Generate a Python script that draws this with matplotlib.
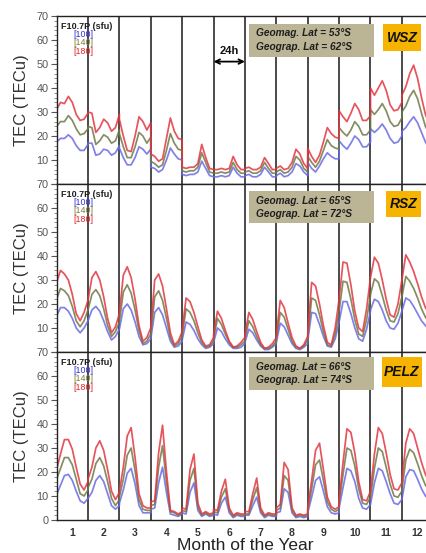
import numpy as np
import matplotlib
matplotlib.use("Agg")
from matplotlib import pyplot as plt
from matplotlib.patches import Rectangle
from matplotlib.ticker import MultipleLocator

plt.rcParams["font.family"] = ["Liberation Sans", "DejaVu Sans"]

# hours sampled inside each month (one mean diurnal curve per month)
hours = [0, 3, 6, 9, 12, 15, 18, 21, 24]
months = list(range(1, 13))

# ---- WSZ : TEC for F10.7P = 180 / 140 / 100 sfu
wsz_180 = [
    [31, 34, 33.5, 36.5, 34, 29, 26.5, 27, 29.5],
    [30, 29.5, 21.5, 23.5, 27, 25.5, 22, 23.5, 29],
    [27, 20, 14, 13.5, 20, 28, 26, 22.5, 25.5],
    [12.5, 11.5, 9.5, 10.5, 19, 27.5, 22, 19, 18.5],
    [7, 6.5, 7, 7, 8.5, 16.5, 11, 6.5, 6],
    [6, 6, 6.5, 6, 6.5, 11.5, 8, 6, 6],
    [6.5, 7, 6, 6, 7, 11, 8.5, 6, 6],
    [6.5, 7.5, 6, 6.5, 9, 14.5, 12.5, 8.5, 6.5],
    [15, 11.5, 9, 12, 17.5, 23.5, 21, 19.5, 19],
    [30.5, 28, 26, 29.5, 33.5, 31, 26.5, 26.5, 28.5],
    [40, 37, 40, 43, 39, 33, 30.5, 31, 34],
    [37, 40.5, 46, 49.5, 44, 36, 29, 25, 25],
]
wsz_140 = [
    [24, 26, 26, 28.5, 26.5, 23, 20.5, 21, 23],
    [24, 23.5, 16.5, 18, 20.5, 19.5, 17, 18, 22.5],
    [21, 15.5, 11, 11, 15.5, 21.5, 20, 17, 19.5],
    [9.5, 8.5, 7, 8, 14, 21, 17, 14.5, 14],
    [5.5, 5, 5.5, 5.5, 7, 13, 9, 5, 4.5],
    [4.5, 4.5, 5, 4.5, 5, 9, 6, 4.5, 4.5],
    [5, 5.5, 4.5, 4.5, 5.5, 9, 6.5, 4.5, 4.5],
    [5, 6, 4.5, 5, 7, 11.5, 10, 6.5, 5],
    [11.5, 9, 7, 9.5, 14, 18.5, 16, 15, 14.5],
    [23.5, 21.5, 20, 22.5, 26, 24, 20.5, 20.5, 22.5],
    [31, 29, 31, 33.5, 30.5, 26, 24, 24.5, 27.5],
    [30, 32.5, 36.5, 39, 35.5, 29.5, 24, 21, 21],
]
wsz_100 = [
    [17.5, 19, 19, 20.5, 19, 16, 14, 14, 16.5],
    [17, 17, 12, 12.5, 14.5, 14, 12, 13, 16],
    [15, 11, 8, 8, 11, 15.5, 14.5, 12.5, 14.5],
    [7, 6.5, 5, 6, 10, 15, 12.5, 10.5, 10],
    [4, 3.5, 4, 4, 5, 9.5, 6.5, 3.5, 3],
    [3, 3, 3.5, 3, 3.5, 7, 4.5, 3, 3],
    [3.5, 4, 3, 3, 4, 7, 5, 3, 3],
    [3.5, 4.5, 3, 3.5, 5, 8.5, 7.5, 5, 3.5],
    [9, 6.5, 5, 7.5, 10.5, 13, 11.5, 10.5, 10.5],
    [18, 16, 14.5, 17, 20, 18.5, 15.5, 15.5, 17.5],
    [23, 21.5, 23, 25, 22.5, 19, 17, 17.5, 20],
    [22, 23.5, 26, 28, 25.5, 21.5, 17.5, 15, 15],
]

# ---- RSZ
rsz_180 = [
    [29, 34, 32.5, 30, 24, 16, 13, 16.5, 21.5],
    [21.5, 31, 33.5, 30, 23, 14, 8, 10.5, 16],
    [16, 32, 35.5, 31, 22, 11, 4.5, 6, 10],
    [10, 30, 32.5, 27.5, 18, 8, 3, 4.5, 8.5],
    [9, 22.5, 21, 16.5, 10.5, 5, 2.5, 3, 6],
    [7, 17, 14, 9, 4.5, 2, 2.5, 4, 6],
    [7, 16.5, 13.5, 8.5, 4, 1.5, 2, 3.5, 6],
    [7, 21.5, 18.5, 12, 6, 2.5, 1.5, 3, 6.5],
    [7.5, 29, 27.5, 20, 11, 4, 3, 10, 22],
    [22, 37.5, 37, 28, 17, 10, 8.5, 18, 31],
    [31, 39.5, 37, 30, 22, 15.5, 14.5, 20, 30],
    [30, 40.5, 37.5, 33.5, 28.5, 23, 18.5, 16, 16],
]
rsz_140 = [
    [22, 26.5, 25.5, 23.5, 19, 13, 10.5, 13, 17.5],
    [17.5, 24, 26, 23.5, 18, 11, 6.5, 8.5, 12.5],
    [12.5, 25, 28, 24.5, 17.5, 9, 3.5, 4.5, 7.5],
    [7.5, 23, 25.5, 21.5, 14, 6, 2.5, 3.5, 6.5],
    [7, 18, 16.5, 13, 8, 4, 2, 2.5, 4.5],
    [5.5, 14, 11.5, 7.5, 4, 2, 2, 3, 4.5],
    [5.5, 13, 10.5, 6.5, 3, 1.5, 1.5, 2.5, 4.5],
    [5.5, 16.5, 14.5, 9.5, 4.5, 2, 1.5, 2.5, 5],
    [6, 22.5, 21.5, 15.5, 8.5, 3, 2.5, 7.5, 17],
    [17, 29.5, 29, 22, 13.5, 7.5, 6.5, 13.5, 23.5],
    [24, 30.5, 29, 23.5, 17.5, 13, 12.5, 16, 23],
    [23, 31.5, 29.5, 26.5, 22.5, 18, 14.5, 12.5, 12.5],
]
rsz_100 = [
    [15, 18.5, 18.5, 17, 14, 10, 8, 10, 13],
    [13, 17.5, 19, 17, 13, 8.5, 5, 6.5, 9.5],
    [9.5, 18, 20, 17.5, 12.5, 6.5, 3, 3.5, 5.5],
    [5.5, 16.5, 18.5, 15.5, 10, 4.5, 2, 2.5, 4.5],
    [5, 12.5, 11.5, 9, 5.5, 3, 1.5, 2, 3.5],
    [4, 10, 8.5, 5.5, 3, 1.5, 1.5, 2, 3.5],
    [4, 9.5, 8, 5, 2.5, 1, 1, 2, 3.5],
    [4, 12, 10.5, 7, 3.5, 1.5, 1, 2, 3.5],
    [4.5, 16.5, 16, 11.5, 6.5, 2.5, 2, 5.5, 12.5],
    [12.5, 21, 21, 16, 10, 5.5, 4.5, 9.5, 17],
    [17.5, 22, 21, 17.5, 13, 10, 9.5, 12, 17],
    [17, 22.5, 21.5, 19, 16, 13, 11, 9.5, 9.5],
]

# ---- PELZ
pelz_180 = [
    [21, 27.5, 33.5, 33.5, 29.5, 22, 15, 12.5, 16],
    [17, 22, 30, 33, 29, 21, 12, 8.5, 11.5],
    [12, 22, 35, 38.5, 26, 11, 6, 5, 5],
    [7.5, 8, 28, 39.5, 20, 4, 3.5, 2.5, 3.5],
    [5, 4.5, 21, 27.5, 7, 2.5, 3.5, 2.5, 3],
    [4.5, 4, 12, 17, 5, 2, 3, 2.5, 2.5],
    [3.5, 3.5, 11, 17.5, 5, 2, 3, 2.5, 2.5],
    [5, 6.5, 24, 21, 5, 2, 2.5, 2, 2.5],
    [5, 16.5, 29, 32, 21, 9.5, 5.5, 4.5, 5.5],
    [8.5, 24, 38, 36.5, 28, 16, 8.5, 8, 12],
    [12, 27.5, 38.5, 36, 28, 19, 13, 12.5, 15.5],
    [16, 32, 38, 36, 30, 24, 19, 16, 16],
]
pelz_140 = [
    [17, 21.5, 26, 26, 23, 17, 11, 10, 12.5],
    [13.5, 17, 23.5, 26, 22.5, 16, 9, 6, 8.5],
    [9.5, 17, 27, 30, 20.5, 8.5, 4.5, 4, 4],
    [6, 6.5, 22, 31, 16, 3.5, 3, 2, 3],
    [4, 3.5, 16.5, 21.5, 5.5, 2, 3, 2, 2.5],
    [3.5, 3, 9.5, 13, 4, 1.5, 2.5, 2, 2],
    [2.5, 2.5, 8.5, 13.5, 4, 1.5, 2.5, 2, 2],
    [4, 5, 18.5, 16.5, 4, 1.5, 2, 1.5, 2],
    [4, 13, 23, 25, 16.5, 7.5, 4.5, 3.5, 4.5],
    [7, 19, 30, 29, 22.5, 13, 7, 6.5, 9.5],
    [9.5, 21.5, 30, 28.5, 22, 15, 10, 9.5, 12],
    [12.5, 25, 29.5, 28, 23.5, 18.5, 14.5, 12.5, 12.5],
]
pelz_100 = [
    [10.5, 14.5, 18.5, 19, 16.5, 12, 8, 7, 9],
    [9, 11.5, 16.5, 18.5, 16, 11, 6, 4.5, 6],
    [7, 12.5, 19.5, 21.5, 15, 6, 3, 3, 3],
    [4.5, 5, 15.5, 22, 11.5, 2.5, 2, 1.5, 2.5],
    [3, 2.5, 11.5, 15.5, 4, 1.5, 2.5, 1.5, 2],
    [2.5, 2, 7, 9.5, 3, 1, 2, 1.5, 1.5],
    [2, 2, 6, 9.5, 3, 1, 2, 1.5, 1.5],
    [3, 3.5, 13, 11.5, 3, 1, 1.5, 1, 1.5],
    [3, 9.5, 16.5, 18, 12, 5.5, 3, 2.5, 3],
    [5, 13.5, 21.5, 20.5, 16, 9, 5, 4.5, 6.5],
    [6.5, 15.5, 21.5, 20.5, 16, 11, 7, 6.5, 8.5],
    [8.5, 18, 21, 20.5, 17, 13, 10, 8.5, 8.5],
]

stations = ["WSZ", "RSZ", "PELZ"]
geomag_lat = ["53°S", "65°S", "66°S"]
geograp_lat = ["62°S", "72°S", "74°S"]
flux_labels = ["[100]", "[140]", "[180]"]

# colours for 100 / 140 / 180 sfu
line_colors = ["#6a6ae6", "#6f7a48", "#e3363f"]
text_colors = ["#2f2fe0", "#7c7c3c", "#e02026"]

W, H = 427, 553
fig = plt.figure(figsize=(W / 100, H / 100), dpi=100)


def fx(px):
    return px / W


def fy(py):
    return 1 - py / H


panel_tops = [16, 184, 352]
panel_h = 168
left_px = 56.6

# box placement (pixels): tan box, orange box
tan_boxes = [(249, 24, 374, 57), (249, 191, 374, 223), (249, 357, 374, 390)]
orange_boxes = [(383, 24, 421, 51), (386, 191, 421, 217), (382, 357, 422, 387)]

x = (np.array(months)[:, None] - 0.5 + np.array(hours)[None, :] / 24.0).ravel()

for i, (series, top) in enumerate(
    zip([(wsz_100, wsz_140, wsz_180), (rsz_100, rsz_140, rsz_180), (pelz_100, pelz_140, pelz_180)], panel_tops)
):
    ax = fig.add_axes([fx(left_px), fy(top + panel_h), 1 - fx(left_px), panel_h / H])
    for data, col in zip(series, line_colors):
        ax.plot(x, np.array(data).ravel(), color=col, lw=1.25, alpha=0.85,
                solid_joinstyle="round")

    # month separators
    for m in months[:-1]:
        ax.axvline(m + 0.5, color="#3c3c3c", lw=1.3, zorder=0)

    ax.set_xlim(0.5, 12.3)
    ax.set_ylim(0, 70)
    ax.spines["right"].set_visible(False)
    for s in ["left", "top", "bottom"]:
        ax.spines[s].set_color("#222222")
        ax.spines[s].set_linewidth(1.0)

    ax.set_yticks(range(0, 71, 10))
    ylabels = [str(v) for v in range(0, 71, 10)]
    if i < 2:
        ylabels[0] = ""
    ax.set_yticklabels(ylabels)
    ax.yaxis.set_minor_locator(MultipleLocator(2))
    ax.tick_params(axis="y", which="major", length=4, width=0.8, color="#555555",
                   labelsize=7.8, labelcolor="#555555", pad=2)
    ax.tick_params(axis="y", which="minor", length=2, width=0.6, color="#777777")

    ax.set_xticks(months)
    if i == 2:
        ax.set_xticklabels([str(m) for m in months], fontsize=7.5, fontweight="bold",
                           color="#333333")
        ax.tick_params(axis="x", length=0, pad=6)
    else:
        ax.set_xticklabels([])
        ax.tick_params(axis="x", length=0)

    # y label
    fig.text(fx(22), fy(top + panel_h / 2), "TEC (TECu)", rotation=90, ha="center",
             va="center", fontsize=12, color="#333333")

    # F10.7P legend, one bracketed value per line
    fig.text(fx(61), fy(top + 10.2), "F10.7P (sfu)", fontsize=6.5, fontweight="bold",
             color="#222222", va="center")
    for k, (lab, col) in enumerate(zip(flux_labels, text_colors)):
        fig.text(fx(73), fy(top + 18.5 + 8.3 * k), lab, fontsize=6.4, color=col,
                 va="center")

    # latitude box
    x0, y0, x1, y1 = tan_boxes[i]
    fig.patches.append(Rectangle((fx(x0), fy(y1)), fx(x1) - fx(x0), (y1 - y0) / H,
                                 transform=fig.transFigure, facecolor="#bbb595",
                                 edgecolor="none", zorder=5))
    fig.text(fx(x0 + 7), fy(y0 + 9.5), "Geomag. Lat = " + geomag_lat[i], fontsize=7.3,
             fontweight="bold", fontstyle="italic", color="#1e1e1e", va="center", zorder=6)
    fig.text(fx(x0 + 7), fy(y0 + 23), "Geograp. Lat = " + geograp_lat[i], fontsize=7.3,
             fontweight="bold", fontstyle="italic", color="#1e1e1e", va="center", zorder=6)

    # station box
    x0, y0, x1, y1 = orange_boxes[i]
    fig.patches.append(Rectangle((fx(x0), fy(y1)), fx(x1) - fx(x0), (y1 - y0) / H,
                                 transform=fig.transFigure, facecolor="#f6b400",
                                 edgecolor="none", zorder=5))
    fig.text(fx((x0 + x1) / 2), fy((y0 + y1) / 2), stations[i], fontsize=10,
             fontweight="bold", fontstyle="italic", color="#111111", ha="center",
             va="center", zorder=6)

    if i == 0:
        # one-day width marker
        ax.annotate("", xy=(5.5, 51), xytext=(6.5, 51),
                    arrowprops=dict(arrowstyle="<->", color="black", lw=1.3,
                                    mutation_scale=8, shrinkA=0, shrinkB=0))
        ax.text(6.0, 55.5, "24h", ha="center", va="center", fontsize=8,
                fontweight="bold", color="#111111")

fig.text(fx(245), fy(545), "Month of the Year", ha="center", va="center",
         fontsize=12.5, color="#222222")

fig.savefig("out.png", dpi=100)
